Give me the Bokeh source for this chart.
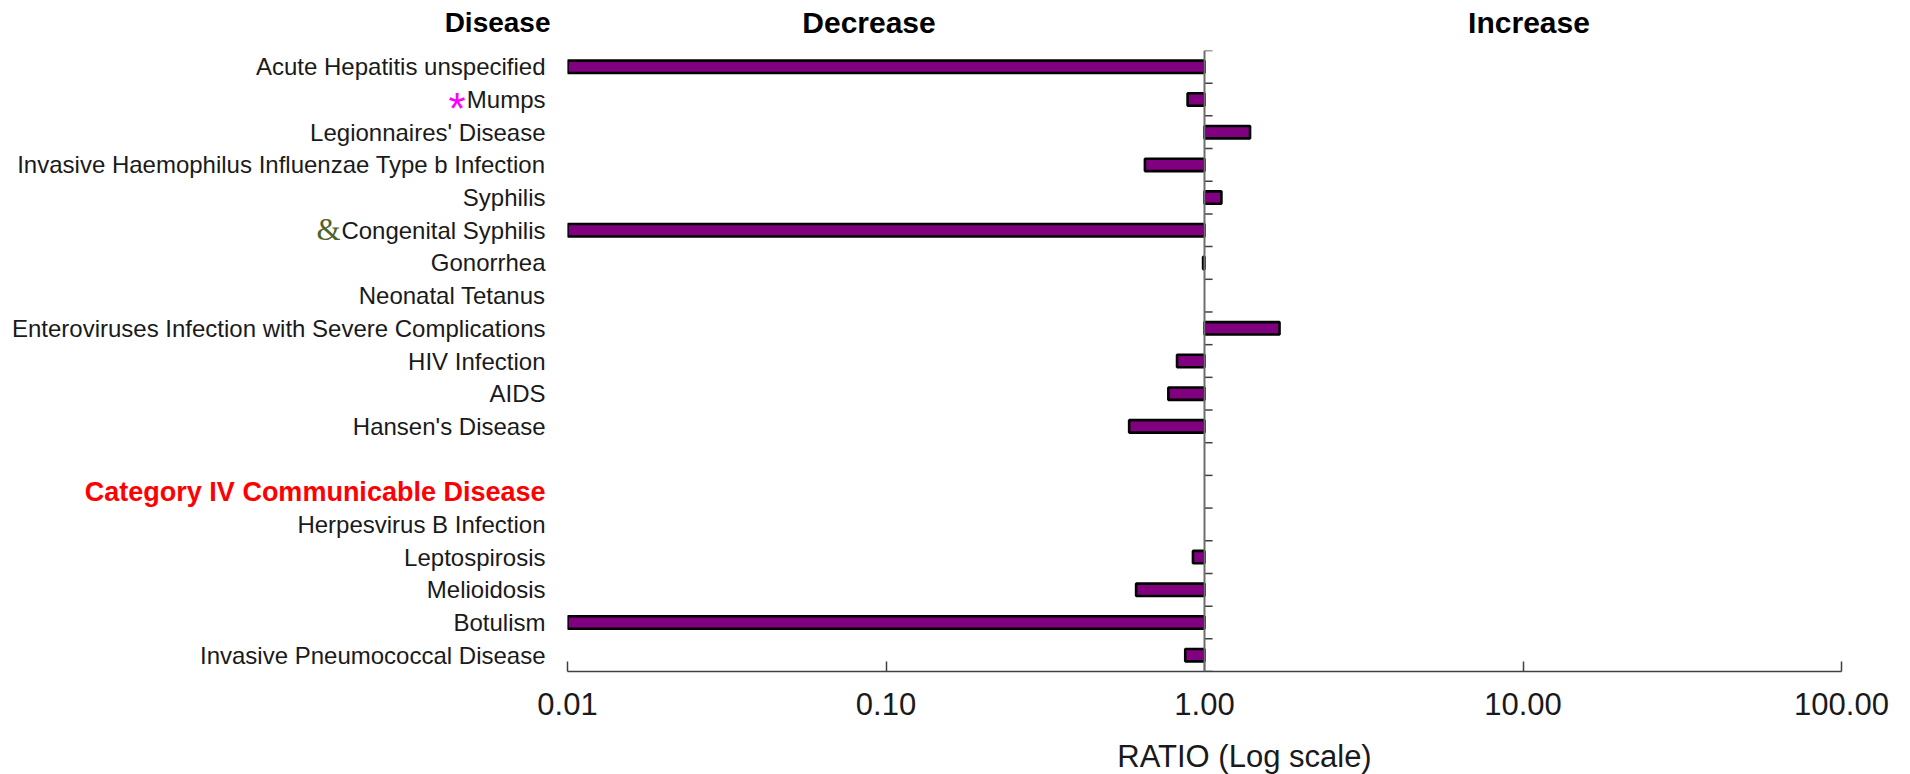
import math
from bokeh.plotting import figure
from bokeh.models import ColumnDataSource, FactorRange, FixedTicker, PrintfTickFormatter, Span
from bokeh.core.properties import value
from bokeh.embed import file_html
from bokeh.resources import INLINE

# ---------------- data ----------------
categories = [
    "Acute Hepatitis unspecified",
    "Mumps",
    "Legionnaires' Disease",
    "Invasive Haemophilus Influenzae Type b Infection",
    "Syphilis",
    "Congenital Syphilis",
    "Gonorrhea",
    "Neonatal Tetanus",
    "Enteroviruses Infection with Severe Complications",
    "HIV Infection",
    "AIDS",
    "Hansen's Disease",
    " ",
    "Category IV Communicable Disease",
    "Herpesvirus B Infection",
    "Leptospirosis",
    "Melioidosis",
    "Botulism",
    "Invasive Pneumococcal Disease",
]
ratios = [0.01, 0.885, 1.39, 0.65, 1.13, 0.01, 0.99, None, 1.72, 0.82, 0.77, 0.58,
          None, None, None, 0.92, 0.61, 0.01, 0.87]
section_header = "Category IV Communicable Disease"
marked = {"Mumps": "*", "Congenital Syphilis": "&"}
tick_values = [0.01, 0.1, 1.0, 10.0, 100.0]
tick_labels = ["0.01", "0.10", "1.00", "10.00", "100.00"]
header_disease = "Disease"
header_decrease = "Decrease"
header_increase = "Increase"
x_title = "RATIO (Log scale)"
baseline = 1.0

FONT = "Liberation Sans"

y_factors = list(reversed(categories))
p = figure(width=1910, height=774, output_backend="svg", toolbar_location=None,
           x_axis_type="log", x_range=(0.01, 100), y_range=FactorRange(*y_factors),
           min_border_left=567, min_border_right=69, min_border_top=50, min_border_bottom=103)
p.outline_line_color = None
p.grid.visible = False
p.yaxis.visible = False
p.background_fill_color = "white"
p.border_fill_color = "white"

# bars
bar_cats = [c for c, r in zip(categories, ratios) if r is not None]
bar_vals = [r for r in ratios if r is not None]
bsrc = ColumnDataSource(dict(y=bar_cats, right=bar_vals, left=[baseline] * len(bar_vals)))
p.hbar(y="y", left="left", right="right", height=0.38, source=bsrc,
       fill_color="#800080", line_color="black", line_width=2.6)

# center axis line at ratio 1
p.add_layout(Span(location=baseline, dimension="height", line_color="#6e6e6e", line_width=2))
n = len(categories)
tsrc = ColumnDataSource(dict(y=list(range(n + 1))))
p.segment(x0=baseline, x1=baseline * 1.06, y0="y", y1="y", source=tsrc,
          line_color="#404040", line_width=1.5)

# bottom axis
ax = p.xaxis[0]
ax.ticker = FixedTicker(ticks=tick_values)
ax.formatter = PrintfTickFormatter(format="%.2f")
ax.major_label_overrides = {v: s for v, s in zip(tick_values, tick_labels)}
ax.major_tick_in = 10
ax.major_tick_out = 0
ax.minor_tick_line_color = None
ax.axis_line_color = "#404040"
ax.axis_line_width = 1.5
ax.major_tick_line_color = "#404040"
ax.major_tick_line_width = 1.5
ax.major_label_text_font = FONT
ax.major_label_text_font_size = "31px"
ax.major_label_text_color = "#1a1a1a"
ax.major_label_standoff = 21

# axis title (drawn as text so the frame keeps its size)
tt = ColumnDataSource(dict(x=[baseline], y=[-2.6], text=[x_title]))
r = p.text(x="x", y="y", text="text", source=tt, x_offset=40, text_align="center",
           text_baseline="middle", text_font=value(FONT), text_font_size="31px",
           text_color="#1a1a1a")
r.level = "overlay"

# category labels
norm = [c for c in categories if c != section_header]
lsrc = ColumnDataSource(dict(y=norm, text=norm, x=[0.01] * len(norm)))
r = p.text(x="x", y="y", text="text", source=lsrc, x_offset=-22, text_align="right",
           text_baseline="middle", text_font=value(FONT), text_font_size="24px",
           text_color="#1a1a1a")
r.level = "overlay"
hsrc = ColumnDataSource(dict(y=[section_header], text=[section_header], x=[0.01]))
r = p.text(x="x", y="y", text="text", source=hsrc, x_offset=-22, text_align="right",
           text_baseline="middle", text_font=value(FONT), text_font_size="27px",
           text_font_style="bold", text_color="#ff0000")
r.level = "overlay"

# markers before some labels
msrc1 = ColumnDataSource(dict(y=["Mumps"], text=[marked["Mumps"]], x=[0.01]))
r = p.text(x="x", y="y", text="text", source=msrc1, x_offset=-102, y_offset=9,
           text_align="right", text_baseline="middle", text_font=value(FONT),
           text_font_size="44px", text_color="#ff00ff")
r.level = "overlay"
msrc2 = ColumnDataSource(dict(y=["Congenital Syphilis"], text=[marked["Congenital Syphilis"]], x=[0.01]))
r = p.text(x="x", y="y", text="text", source=msrc2, x_offset=-227, y_offset=-1,
           text_align="right", text_baseline="middle", text_font=value("Liberation Serif"),
           text_font_size="31px", text_color="#4f6228")
r.level = "overlay"

# headers
top = n + 0.86
hd = ColumnDataSource(dict(x=[0.01], y=[top], text=[header_disease]))
r = p.text(x="x", y="y", text="text", source=hd, x_offset=-17, text_align="right",
           text_baseline="middle", text_font=value(FONT), text_font_size="28px",
           text_font_style="bold", text_color="black")
r.level = "overlay"
hdc = ColumnDataSource(dict(x=[0.1, 10.0], y=[top, top], text=[header_decrease, header_increase],
                            xo=[-17, 6]))
r = p.text(x="x", y="y", text="text", source=hdc, x_offset="xo", text_align="center",
           text_baseline="middle", text_font=value(FONT), text_font_size="30px",
           text_font_style="bold", text_color="black")
r.level = "overlay"

open("out.html", "w").write(file_html(p, INLINE))
